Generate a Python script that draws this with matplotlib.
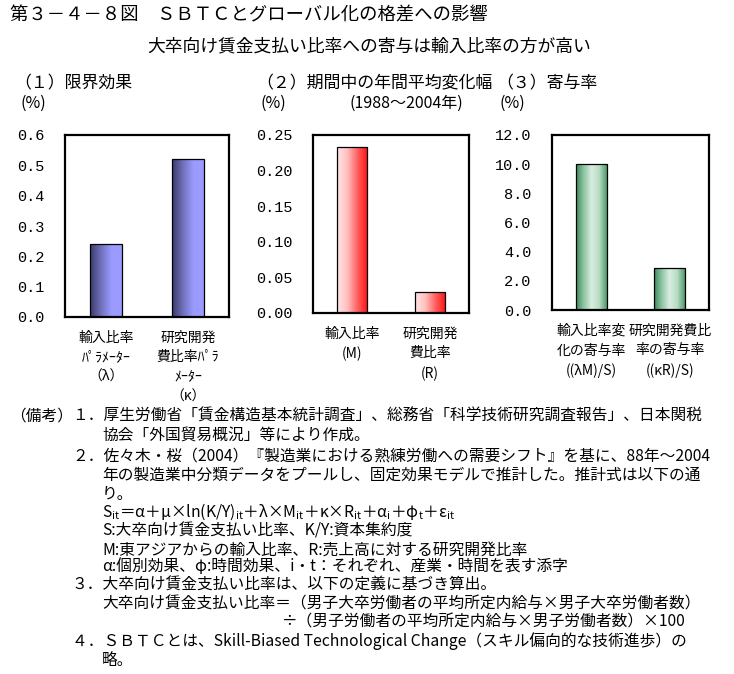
import numpy as np
import matplotlib
matplotlib.use("Agg")
import matplotlib.pyplot as plt
from matplotlib.colors import LinearSegmentedColormap
from matplotlib.ticker import FormatStrFormatter

plt.rcParams['font.family'] = ['Noto Sans CJK JP', 'DejaVu Sans']
plt.rcParams['mathtext.fontset'] = 'dejavusans'

# ---- data ----
p1_labels = ["輸入比率\nﾊﾟﾗﾒｰﾀｰ\n（λ）", "研究開発\n費比率ﾊﾟﾗ\nﾒｰﾀｰ\n（κ）"]
p1_values = [0.24, 0.52]
p2_labels = ["輸入比率\n(M)", "研究開発\n費比率\n(R)"]
p2_values = [0.233, 0.029]
p3_labels = ["輸入比率変\n化の寄与率\n((λM)/S)", "研究開発費比\n率の寄与率\n((κR)/S)"]
p3_values = [10.0, 2.85]

p1_ticks = [0.0, 0.1, 0.2, 0.3, 0.4, 0.5, 0.6]
p2_ticks = [0.00, 0.05, 0.10, 0.15, 0.20, 0.25]
p3_ticks = [0.0, 2.0, 4.0, 6.0, 8.0, 10.0, 12.0]

W, H = 734, 674
fig = plt.figure(figsize=(W / 100, H / 100), dpi=100)
fig.patch.set_facecolor('white')

def fx(x):
    return x / W

def fy(y):
    return 1 - y / H

def axes_px(x0, x1, y0, y1):
    return fig.add_axes([fx(x0), fy(y1), (x1 - x0) / W, (y1 - y0) / H])

cmap1 = LinearSegmentedColormap.from_list('c1', ['#3a3a6a', '#6e6eb8', '#9a9aff', '#9c9cff'])
cmap2 = LinearSegmentedColormap.from_list('c2', ['#ffe4e4', '#ffc0c0', '#ff6060', '#ff1010'])
cmap3 = LinearSegmentedColormap.from_list('c3', ['#3a8a5c', '#8fc4a2', '#d8ede0', '#b8dcc4', '#4e9a6c'])

def panel(ax, values, labels, ticks, fmt, cmap):
    bars = ax.bar([0, 1], values, width=0.39, facecolor='none', edgecolor='black',
                  linewidth=0.9, zorder=3)
    grad = np.linspace(0, 1, 256).reshape(1, -1)
    for b in bars:
        x, y = b.get_x(), b.get_y()
        w, h = b.get_width(), b.get_height()
        im = ax.imshow(grad, extent=[x, x + w, y, y + h], aspect='auto', cmap=cmap,
                       zorder=2, interpolation='bilinear')
        im.set_clip_path(b)
    ax.set_xlim(-0.5, 1.5)
    ax.set_ylim(ticks[0], ticks[-1])
    ax.set_yticks(ticks)
    ax.yaxis.set_major_formatter(FormatStrFormatter(fmt))
    ax.set_xticks([0, 1])
    ax.set_xticklabels(labels, fontsize=10, linespacing=1.5, va='top')
    ax.tick_params(axis='x', length=0, pad=10)
    ax.tick_params(axis='y', length=0, pad=15)
    for lab in ax.get_yticklabels():
        lab.set_family('Liberation Mono')
        lab.set_fontsize(11)
    for s in ax.spines.values():
        s.set_linewidth(1.6)
        s.set_color('black')

ax1 = axes_px(65, 229, 135, 317)
panel(ax1, p1_values, p1_labels, p1_ticks, '%.1f', cmap1)
ax2 = axes_px(313, 469, 135, 313)
panel(ax2, p2_values, p2_labels, p2_ticks, '%.2f', cmap2)
ax3 = axes_px(552, 709, 135, 310)
panel(ax3, p3_values, p3_labels, p3_ticks, '%.1f', cmap3)

# ---- titles ----
fig.text(fx(10), fy(15), "第３－４－８図　ＳＢＴＣとグローバル化の格差への影響",
         fontsize=13.2, va='center', ha='left')
fig.text(fx(369), fy(46), "大卒向け賃金支払い比率への寄与は輸入比率の方が高い",
         fontsize=12.8, va='center', ha='center')
fig.text(fx(14), fy(83), "（１）限界効果", fontsize=12.2, va='center', ha='left')
fig.text(fx(256), fy(83), "（２）期間中の年間平均変化幅", fontsize=12.2, va='center', ha='left')
fig.text(fx(496), fy(83), "（３）寄与率", fontsize=12.2, va='center', ha='left')
fig.text(fx(20), fy(103), "(%)", fontsize=11.5, va='center', ha='left')
fig.text(fx(260), fy(103), "(%)", fontsize=11.5, va='center', ha='left')
fig.text(fx(500), fy(103), "(%)", fontsize=11.5, va='center', ha='left')
fig.text(fx(406), fy(103), "(1988～2004年)", fontsize=11.5, va='center', ha='center')

# ---- notes ----
fs = 11.3
notes = [
    (10, 416, "（備考）"),
    (72, 416, "１．厚生労働省「賃金構造基本統計調査」、総務省「科学技術研究調査報告」、日本関税"),
    (102, 436, "協会「外国貿易概況」等により作成。"),
    (72, 456, "２．佐々木・桜（2004）『製造業における熟練労働への需要シフト』を基に、88年～2004"),
    (102, 475, "年の製造業中分類データをプールし、固定効果モデルで推計した。推計式は以下の通"),
    (102, 494, "り。"),
    (102, 512, r"S$_{\mathregular{it}}$＝α＋μ×ln(K/Y)$_{\mathregular{it}}$＋λ×M$_{\mathregular{it}}$＋κ×R$_{\mathregular{it}}$＋α$_{\mathregular{i}}$＋φ$_{\mathregular{t}}$＋ε$_{\mathregular{it}}$"),
    (102, 531, "S:大卒向け賃金支払い比率、K/Y:資本集約度"),
    (102, 550, "M:東アジアからの輸入比率、R:売上高に対する研究開発比率"),
    (102, 567, "α:個別効果、φ:時間効果、i・t：それぞれ、産業・時間を表す添字"),
    (72, 585, "３．大卒向け賃金支払い比率は、以下の定義に基づき算出。"),
    (102, 604, "大卒向け賃金支払い比率＝（男子大卒労働者の平均所定内給与×男子大卒労働者数）"),
    (282, 622, "÷（男子労働者の平均所定内給与×男子労働者数）×100"),
    (72, 641, "４．ＳＢＴＣとは、Skill-Biased Technological Change（スキル偏向的な技術進歩）の"),
    (102, 660, "略。"),
]
for x, y, t in notes:
    fig.text(fx(x), fy(y), t, fontsize=fs, va='center', ha='left')

fig.savefig("out.png", dpi=100, facecolor='white')
